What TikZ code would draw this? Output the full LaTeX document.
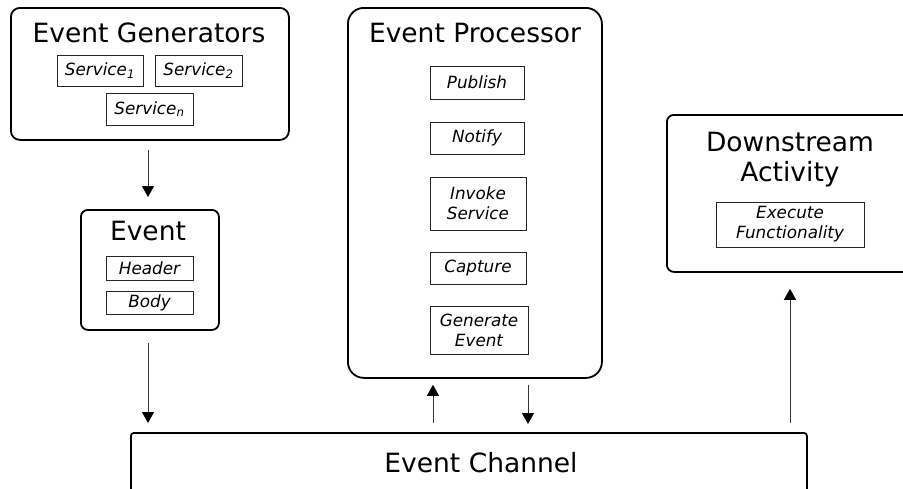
\documentclass[tikz,border=0pt]{standalone}
\usepackage{fontspec}
\setmainfont{DejaVu Sans}
\usetikzlibrary{arrows.meta,calc}
\tikzset{
  outer/.style={draw=black, line width=1.8pt, rounded corners=#1, inner sep=0pt, anchor=north west},
  outer/.default=8pt,
  inbox/.style={draw=black!85, line width=0.9pt, inner sep=0pt, align=center,
    font=\fontsize{16.8}{20}\selectfont\itshape},
  title/.style={inner sep=0pt, anchor=base, align=center, font=\fontsize{26.5}{30}\selectfont},
  arr/.style={draw=black!80, line width=1pt, -{Triangle[width=12pt,length=11pt,color=black]}}
}
\begin{document}
\begin{tikzpicture}[x=1pt,y=-1pt]
\useasboundingbox (0,0) rectangle (903,488);
% outer boxes
\node[outer=9pt, minimum width=278pt, minimum height=132pt] (eg) at (10,7) {};
\node[outer=7pt, minimum width=138pt, minimum height=120pt] (ev) at (80,209) {};
\node[outer=16pt, minimum width=254pt, minimum height=370pt] (ep) at (347,7) {};
\node[outer=7pt, minimum width=248pt, minimum height=157pt] (ds) at (666,114) {};
\node[outer=3pt, minimum width=676pt, minimum height=90pt] (ec) at (130,432) {};
% titles
\node[title] (egt) at (149,42) {Event Generators};
\node[title] (evt) at (148,240) {Event};
\node[title] (ept) at (475,42) {Event Processor};
\node[title, anchor=center] (dst) at (790,160) {Downstream\\Activity};
\node[title] (ect) at (481,472) {Event Channel};
% inner boxes
\node[inbox, minimum width=86pt, minimum height=31pt] (s1) at (100,70.5) {Service\textsubscript{1}};
\node[inbox, minimum width=87pt, minimum height=31pt] (s2) at (198.5,70.5) {Service\textsubscript{2}};
\node[inbox, minimum width=87pt, minimum height=32pt] (sn) at (149.5,109) {Service\textsubscript{n}};
\node[inbox, minimum width=87pt, minimum height=24pt] (hd) at (149.5,268) {Header};
\node[inbox, minimum width=87pt, minimum height=23pt] (bd) at (149.5,302.5) {Body};
\node[inbox, minimum width=94pt, minimum height=33pt] (pub) at (477,82.5) {Publish};
\node[inbox, minimum width=94pt, minimum height=32pt] (ntf) at (477,138) {Notify};
\node[inbox, minimum width=96pt, minimum height=53pt] (inv) at (478,203.5) {Invoke\\Service};
\node[inbox, minimum width=96pt, minimum height=32pt] (cap) at (478,268) {Capture};
\node[inbox, minimum width=98pt, minimum height=48pt] (gen) at (479,330) {Generate\\Event};
\node[inbox, minimum width=148pt, minimum height=45pt] (exe) at (790,224.5) {Execute\\Functionality};
% connectors
\coordinate (xa) at (148,0);
\coordinate (xu) at (433,0);
\coordinate (xd) at (528,0);
\coordinate (xs) at (790,0);
\draw[arr, shorten <=9pt, shorten >=12pt] (eg.south -| xa) -- (ev.north -| xa);
\draw[arr, shorten <=12pt, shorten >=9pt] (ev.south -| xa) -- (ec.north -| xa);
\draw[arr, shorten <=9pt, shorten >=6pt] (ec.north -| xu) -- (ep.south -| xu);
\draw[arr, shorten <=6pt, shorten >=8pt] (ep.south -| xd) -- (ec.north -| xd);
\draw[arr, shorten <=9pt, shorten >=16pt] (ec.north -| xs) -- (ds.south -| xs);
\end{tikzpicture}
\end{document}
